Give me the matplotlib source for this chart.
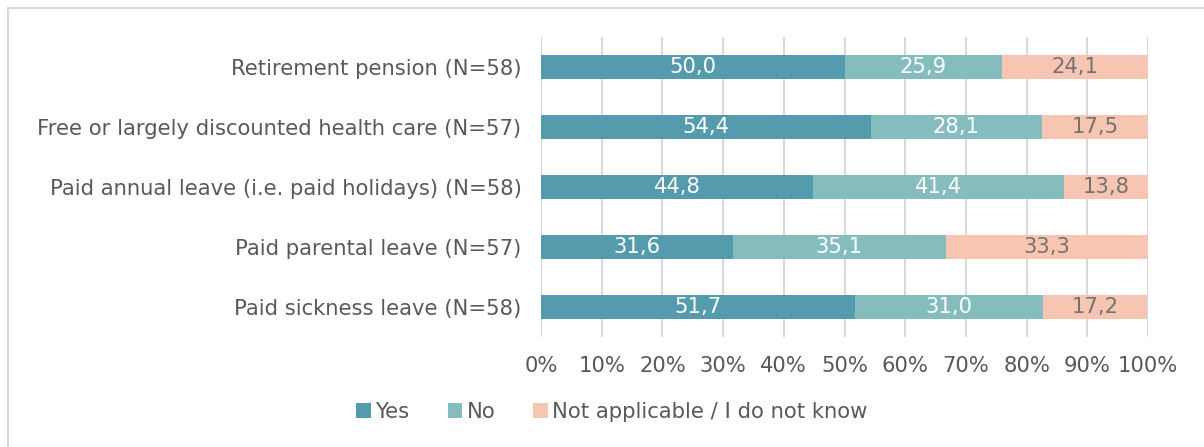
import matplotlib.pyplot as plt
from matplotlib.patches import Rectangle, Patch

categories = [
    'Retirement pension (N=58)',
    'Free or largely discounted health care (N=57)',
    'Paid annual leave (i.e. paid holidays) (N=58)',
    'Paid parental leave (N=57)',
    'Paid sickness leave (N=58)',
]
yes = [50.0, 54.4, 44.8, 31.6, 51.7]
no = [25.9, 28.1, 41.4, 35.1, 31.0]
not_known = [24.1, 17.5, 13.8, 33.3, 17.2]
series_names = ['Yes', 'No', 'Not applicable / I do not know']
series_colors = ['#559bae', '#85bdbf', '#f7c6b3']
label_colors = ['white', 'white', '#767171']

W, H = 1204, 447
fs = 15.2
fig = plt.figure(figsize=(W / 100, H / 100), dpi=100)
ax = fig.add_axes([541 / W, 1 - 337 / H, (1148 - 541) / W, 300 / H])

text_gray = '#595959'
grid_gray = '#d9d9d9'

pos = list(range(len(categories)))
left = [0.0] * len(categories)
for vals, name, col, lcol in zip([yes, no, not_known], series_names, series_colors, label_colors):
    bars = ax.barh(pos, vals, left=left, height=0.4, color=col, label=name, zorder=3)
    for b, v in zip(bars, vals):
        ax.text(b.get_x() + b.get_width() / 2, b.get_y() + b.get_height() / 2,
                f'{v:.1f}'.replace('.', ','), ha='center', va='center',
                color=lcol, fontsize=fs, zorder=4)
    left = [l + v for l, v in zip(left, vals)]

ax.set_xlim(0, 100)
ax.set_ylim(len(categories) - 0.5, -0.5)
ax.set_xticks(range(0, 101, 10))
ax.set_xticklabels([f'{t}%' for t in range(0, 101, 10)])
ax.set_yticks(pos)
ax.set_yticklabels(categories)
ax.tick_params(axis='y', length=0, pad=14, labelsize=fs, labelcolor=text_gray)
ax.tick_params(axis='x', length=0, pad=14, labelsize=fs, labelcolor=text_gray)
ax.grid(axis='x', color=grid_gray, linewidth=1.5, zorder=0)
for s in ax.spines.values():
    s.set_visible(False)

handles = [Patch(facecolor=c, label=n) for c, n in zip(series_colors, series_names)]
leg = fig.legend(handles=handles, loc='center', bbox_to_anchor=(612 / W, 1 - 412 / H),
                 ncol=3, frameon=False, fontsize=fs, handlelength=0.7, handleheight=0.7,
                 handletextpad=0.2, columnspacing=1.8)
for t in leg.get_texts():
    t.set_color(text_gray)

# thin border along the top and left edge
fig.patches.append(Rectangle((8 / W, -0.1), 1.2, (H - 8) / H + 0.1, transform=fig.transFigure,
                             fill=False, edgecolor='#d9d9d9', linewidth=1.5))

fig.savefig('out.png', dpi=100)
